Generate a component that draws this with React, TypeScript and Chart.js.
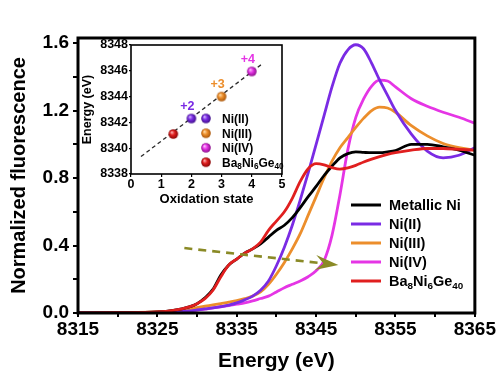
import React, { useEffect, useRef } from 'react';
import { Chart, registerables } from 'chart.js';

Chart.register(...registerables);

// ---------- main chart data ----------
const energies = [8315, 8320, 8325, 8327, 8329, 8330, 8331, 8332, 8333, 8334, 8335, 8336, 8337, 8338, 8339, 8340, 8341, 8342, 8343, 8344, 8345, 8346, 8347, 8348, 8349, 8350, 8351, 8352, 8353, 8354, 8355, 8357, 8359, 8361, 8363, 8365];
const metallicNi = [0.0, 0.002, 0.006, 0.015, 0.036, 0.055, 0.09, 0.14, 0.225, 0.285, 0.32, 0.355, 0.38, 0.41, 0.45, 0.49, 0.52, 0.565, 0.625, 0.69, 0.75, 0.815, 0.87, 0.92, 0.945, 0.955, 0.952, 0.95, 0.95, 0.955, 0.963, 1.0, 1.0, 0.985, 0.965, 0.935];
const niII = [0, 0, 0.003, 0.006, 0.012, 0.018, 0.024, 0.03, 0.038, 0.047, 0.06, 0.078, 0.1, 0.135, 0.19, 0.28, 0.39, 0.52, 0.67, 0.83, 1.0, 1.17, 1.34, 1.48, 1.56, 1.59, 1.565, 1.48, 1.38, 1.29, 1.2, 1.06, 0.96, 0.92, 0.935, 0.98];
const niIII = [0, 0.002, 0.006, 0.013, 0.025, 0.032, 0.04, 0.048, 0.056, 0.064, 0.073, 0.085, 0.1, 0.125, 0.17, 0.23, 0.3, 0.38, 0.47, 0.58, 0.69, 0.8, 0.9, 0.98, 1.04, 1.1, 1.155, 1.2, 1.22, 1.215, 1.19, 1.11, 1.05, 1.005, 0.98, 0.965];
const niIV = [0, 0, 0.002, 0.005, 0.012, 0.017, 0.023, 0.03, 0.037, 0.044, 0.052, 0.06, 0.072, 0.086, 0.1, 0.125, 0.15, 0.17, 0.19, 0.215, 0.25, 0.31, 0.46, 0.7, 0.97, 1.16, 1.27, 1.345, 1.38, 1.375, 1.34, 1.27, 1.225, 1.19, 1.16, 1.125];
const baNiGe = [0.0, 0.002, 0.006, 0.015, 0.036, 0.055, 0.085, 0.135, 0.215, 0.285, 0.32, 0.355, 0.38, 0.42, 0.49, 0.545, 0.6, 0.68, 0.78, 0.855, 0.885, 0.878, 0.862, 0.853, 0.86, 0.875, 0.895, 0.912, 0.927, 0.94, 0.95, 0.965, 0.975, 0.975, 0.97, 0.965];

const seriesNames = ['Metallic Ni', 'Ni(II)', 'Ni(III)', 'Ni(IV)', 'Ba8Ni6Ge40'];
const seriesValues = [metallicNi, niII, niIII, niIV, baNiGe];
const seriesColors = ['#000000', '#7a2be4', '#ec8e2c', '#e535e5', '#e01f1f'];

const yTickValues = [0, 0.2, 0.4, 0.6, 0.8, 1.0, 1.2, 1.4, 1.6];
const yLabelValues = [0, 0.4, 0.8, 1.2, 1.6];
const xTickValues = [8315, 8320, 8325, 8330, 8335, 8340, 8345, 8350, 8355, 8360, 8365];
const xLabelValues = [8315, 8325, 8335, 8345, 8355, 8365];

// dashed arrow (energy, normalized fluorescence)
const arrowEnergy = [8328.4, 8347.8];
const arrowValue = [0.385, 0.284];

// ---------- inset data ----------
const insetNames = ['Ni(II)', 'Ni(III)', 'Ni(IV)', 'Ba8Ni6Ge40'];
const oxidationStates = [2, 3, 4, 1.4];
const edgeEnergies = [8342.3, 8344.0, 8345.95, 8341.1];
const valenceLabels = ['+2', '+3', '+4', ''];
const insetColors = ['#7a2be4', '#ec8e2c', '#e535e5', '#e01f1f'];
const sphereShades = [
  ['#d6bcff', '#7a2be4', '#40108a'],
  ['#ffe0b0', '#ee902c', '#a85408'],
  ['#ffc4ff', '#e535e5', '#8a0c8a'],
  ['#ffb8b8', '#e01f1f', '#8a0606'],
];
const fitOxidation = [0.33, 4.38];
const fitEnergy = [8339.35, 8346.6];

const FONT = "'Liberation Sans', Arial, Helvetica, sans-serif";

function makeSphere(shades: string[], r: number): HTMLCanvasElement {
  const s = Math.ceil(r * 2) + 2;
  const c = document.createElement('canvas');
  c.width = s;
  c.height = s;
  const ctx = c.getContext('2d')!;
  const cx = s / 2;
  const cy = s / 2;
  const g = ctx.createRadialGradient(cx - r * 0.35, cy - r * 0.4, r * 0.05, cx, cy, r);
  g.addColorStop(0, shades[0]);
  g.addColorStop(0.45, shades[1]);
  g.addColorStop(1, shades[2]);
  ctx.fillStyle = g;
  ctx.beginPath();
  ctx.arc(cx, cy, r, 0, Math.PI * 2);
  ctx.fill();
  return c;
}

function drawRich(ctx: CanvasRenderingContext2D, text: string, x: number, yCenter: number, size: number, color: string) {
  const parts = text.split(/(\d+)/).filter((p) => p.length > 0);
  const baseline = yCenter + size * 0.36;
  let cx = x;
  ctx.fillStyle = color;
  ctx.textAlign = 'left';
  ctx.textBaseline = 'alphabetic';
  for (const p of parts) {
    const isSub = /^\d+$/.test(p);
    const fs = isSub ? size * 0.68 : size;
    ctx.font = `bold ${fs}px ${FONT}`;
    ctx.fillText(p, cx, isSub ? baseline + size * 0.22 : baseline);
    cx += ctx.measureText(p).width;
  }
}

const near = (list: number[], v: number) => list.some((t) => Math.abs(t - v) < 1e-6);

export default function App() {
  const mainRef = useRef<HTMLCanvasElement>(null);
  const insetRef = useRef<HTMLCanvasElement>(null);

  useEffect(() => {
    if (!mainRef.current || !insetRef.current) return;

    const order = [4, 0, 1, 2, 3];
    const datasets = order.map((k, idx) => ({
      label: seriesNames[k],
      data: energies.map((e, i) => ({ x: e, y: seriesValues[k][i] })),
      borderColor: seriesColors[k],
      borderWidth: 2.8,
      pointRadius: 0,
      fill: false,
      cubicInterpolationMode: 'monotone' as const,
      order: idx,
    }));

    const mainPlugin = {
      id: 'mainDecor',
      afterDatasetsDraw(chart: any) {
        const ctx: CanvasRenderingContext2D = chart.ctx;
        const xs = chart.scales.x;
        const ys = chart.scales.y;
        const x0 = xs.getPixelForValue(arrowEnergy[0]);
        const y0 = ys.getPixelForValue(arrowValue[0]);
        const x1 = xs.getPixelForValue(arrowEnergy[1]);
        const y1 = ys.getPixelForValue(arrowValue[1]);
        const len = Math.hypot(x1 - x0, y1 - y0);
        const dx = (x1 - x0) / len;
        const dy = (y1 - y0) / len;
        const px = -dy;
        const py = dx;
        const col = '#8a8a26';
        ctx.save();
        ctx.strokeStyle = col;
        ctx.lineWidth = 2.6;
        ctx.setLineDash([8, 6]);
        ctx.beginPath();
        ctx.moveTo(x0, y0);
        ctx.lineTo(x1 - dx * 14, y1 - dy * 14);
        ctx.stroke();
        ctx.setLineDash([]);
        ctx.fillStyle = col;
        ctx.beginPath();
        ctx.moveTo(x1, y1);
        ctx.lineTo(x1 - dx * 23 + px * 7.5, y1 - dy * 23 + py * 7.5);
        ctx.lineTo(x1 - dx * 15, y1 - dy * 15);
        ctx.lineTo(x1 - dx * 23 - px * 7.5, y1 - dy * 23 - py * 7.5);
        ctx.closePath();
        ctx.fill();
        ctx.restore();
      },
      afterDraw(chart: any) {
        const ctx: CanvasRenderingContext2D = chart.ctx;
        const a = chart.chartArea;
        ctx.save();
        ctx.strokeStyle = '#000';
        ctx.lineWidth = 3;
        ctx.strokeRect(a.left, a.top, a.right - a.left, a.bottom - a.top);
        const rows = [205, 224, 243, 262, 281];
        for (let k = 0; k < seriesNames.length; k++) {
          ctx.strokeStyle = seriesColors[k];
          ctx.lineWidth = 3;
          ctx.beginPath();
          ctx.moveTo(351, rows[k]);
          ctx.lineTo(381, rows[k]);
          ctx.stroke();
          drawRich(ctx, seriesNames[k], 389, rows[k], 14.5, '#000');
        }
        ctx.restore();
      },
    };

    const tickFont = { family: FONT, size: 19, weight: 'bold' as const };

    const main = new Chart(mainRef.current, {
      type: 'line',
      data: { datasets },
      options: {
        animation: false,
        responsive: false,
        layout: { padding: { left: 0, top: 38, right: 19, bottom: 0 } },
        plugins: { legend: { display: false }, tooltip: { enabled: false } },
        scales: {
          x: {
            type: 'linear',
            min: 8315,
            max: 8365,
            afterBuildTicks: (s: any) => {
              s.ticks = xTickValues.map((v) => ({ value: v }));
            },
            ticks: {
              autoSkip: false,
              maxRotation: 0,
              color: '#000',
              font: tickFont,
              padding: 1,
              callback: (v: any) => (near(xLabelValues, Number(v)) ? String(v) : ''),
            },
            grid: { display: true, drawOnChartArea: false, drawTicks: true, tickLength: 4, color: '#000', lineWidth: 2 },
            border: { display: false },
            title: {
              display: true,
              text: 'Energy (eV)',
              color: '#000',
              font: { family: FONT, size: 21, weight: 'bold' },
              padding: { top: 0, bottom: 6 },
            },
            afterFit: (s: any) => {
              s.height = 67;
            },
          },
          y: {
            type: 'linear',
            min: 0,
            max: 1.63,
            afterBuildTicks: (s: any) => {
              s.ticks = yTickValues.map((v) => ({ value: v }));
            },
            ticks: {
              autoSkip: false,
              color: '#000',
              font: tickFont,
              padding: 4,
              callback: (v: any) => (near(yLabelValues, Number(v)) ? Number(v).toFixed(1) : ''),
            },
            grid: { display: true, drawOnChartArea: false, drawTicks: true, tickLength: 5, color: '#000', lineWidth: 2 },
            border: { display: false },
            title: {
              display: true,
              text: 'Normalized fluorescence',
              color: '#000',
              font: { family: FONT, size: 20, weight: 'bold' },
              padding: { top: 7, bottom: 0 },
            },
            afterFit: (s: any) => {
              s.width = 78;
            },
          },
        },
      },
      plugins: [mainPlugin],
    });

    // ---------- inset ----------
    const spheres = sphereShades.map((sh) => makeSphere(sh, 4.8));
    const insetDatasets: any[] = [
      {
        type: 'line',
        label: 'fit',
        data: fitOxidation.map((x, i) => ({ x, y: fitEnergy[i] })),
        borderColor: '#2a2a2a',
        borderWidth: 1.3,
        borderDash: [4, 3],
        pointRadius: 0,
        order: 5,
      },
    ];
    insetNames.forEach((n, i) => {
      insetDatasets.push({
        type: 'scatter',
        label: n,
        data: [{ x: oxidationStates[i], y: edgeEnergies[i] }],
        pointStyle: spheres[i],
        pointRadius: 5,
        order: i,
      });
    });

    const insetPlugin = {
      id: 'insetDecor',
      afterDraw(chart: any) {
        const ctx: CanvasRenderingContext2D = chart.ctx;
        const a = chart.chartArea;
        const xs = chart.scales.x;
        const ys = chart.scales.y;
        ctx.save();
        ctx.strokeStyle = '#000';
        ctx.lineWidth = 1.6;
        ctx.strokeRect(a.left, a.top, a.right - a.left, a.bottom - a.top);
        ctx.font = `bold 12.5px ${FONT}`;
        ctx.textAlign = 'center';
        ctx.textBaseline = 'middle';
        for (let i = 0; i < valenceLabels.length; i++) {
          if (!valenceLabels[i]) continue;
          ctx.fillStyle = insetColors[i];
          ctx.fillText(valenceLabels[i], xs.getPixelForValue(oxidationStates[i]) - 4, ys.getPixelForValue(edgeEnergies[i]) - 12);
        }
        const rows = [88.5, 103.3, 117.8, 132.2];
        for (let i = 0; i < insetNames.length; i++) {
          const sp = spheres[i];
          ctx.drawImage(sp, 126 - sp.width / 2, rows[i] - sp.height / 2);
          drawRich(ctx, insetNames[i], 142, rows[i], 12, '#000');
        }
        ctx.restore();
      },
    };

    const smallFont = { family: FONT, size: 12.5, weight: 'bold' as const };
    const inset = new Chart(insetRef.current, {
      type: 'scatter',
      data: { datasets: insetDatasets },
      options: {
        animation: false,
        responsive: false,
        layout: { padding: { left: 0, top: 15, right: 8, bottom: 0 } },
        plugins: { legend: { display: false }, tooltip: { enabled: false } },
        scales: {
          x: {
            type: 'linear',
            min: 0,
            max: 5,
            ticks: { stepSize: 1, color: '#000', font: smallFont, padding: 0, maxRotation: 0 },
            grid: { display: true, drawOnChartArea: false, drawTicks: true, tickLength: 3, color: '#000', lineWidth: 1.2 },
            border: { display: false },
            title: {
              display: true,
              text: 'Oxidation state',
              color: '#000',
              font: { family: FONT, size: 13, weight: 'bold' },
              padding: { top: 0, bottom: 2.5 },
            },
            afterFit: (s: any) => {
              s.height = 36;
            },
          },
          y: {
            type: 'linear',
            min: 8338,
            max: 8348,
            ticks: { stepSize: 2, color: '#000', font: smallFont, padding: 1, callback: (v: any) => String(v) },
            grid: { display: true, drawOnChartArea: false, drawTicks: true, tickLength: 2, color: '#000', lineWidth: 1.2 },
            border: { display: false },
            title: {
              display: true,
              text: 'Energy (eV)',
              color: '#000',
              font: { family: FONT, size: 12.5, weight: 'bold' },
              padding: { top: 0, bottom: 0 },
            },
            afterFit: (s: any) => {
              s.width = 51;
            },
          },
        },
      },
      plugins: [insetPlugin],
    });

    return () => {
      main.destroy();
      inset.destroy();
    };
  }, []);

  return (
    <div style={{ position: 'absolute', left: 0, top: 0, width: 497, height: 380, background: '#fff', overflow: 'hidden' }}>
      <canvas ref={mainRef} width={497} height={380} style={{ position: 'absolute', left: 0, top: 0, width: 497, height: 380, display: 'block' }} />
      <canvas ref={insetRef} width={210} height={180} style={{ position: 'absolute', left: 80, top: 30, width: 210, height: 180, display: 'block' }} />
    </div>
  );
}
